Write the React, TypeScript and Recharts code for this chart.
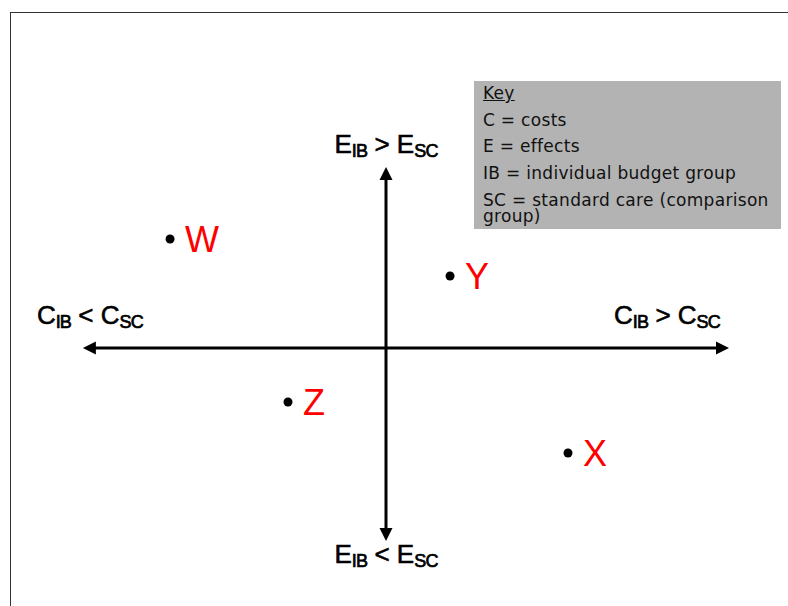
import { ScatterChart, Scatter, XAxis, YAxis, ReferenceLine, ReferenceDot } from "recharts";

// the four options on the cost-effectiveness plane
const names = ["W", "Y", "Z", "X"];
const costs = [-6.17, 1.83, -2.8, 5.2];
const effects = [5.45, 3.6, -2.7, -5.25];

// how far the arrows reach on each side
const costRange = [-8.66, 9.8];
const effectRange = [-9.65, 9.05];

const axisEnds = ["left", "right", "top", "bottom"];
const axisLetters = ["C", "C", "E", "E"];
const axisOps = ["<", ">", ">", "<"];

const keyLines = [
  "Key",
  "C = costs",
  "E = effects",
  "IB = individual budget group",
  "SC = standard care (comparison group)",
];

const points = names.map((n, i) => ({ name: n, cost: costs[i], effect: effects[i] }));

const FONT = "'Liberation Sans', Arial, sans-serif";

const Arrow = (p: any) => {
  const { x1, y1, x2, y2 } = p;
  const len = 13;
  const half = 6.5;
  const dx = x2 - x1;
  const dy = y2 - y1;
  const d = Math.sqrt(dx * dx + dy * dy) || 1;
  const ux = dx / d;
  const uy = dy / d;
  const head = (tx: number, ty: number, sx: number, sy: number) => {
    const bx = tx - sx * len;
    const by = ty - sy * len;
    return `${tx},${ty} ${bx - sy * half},${by + sx * half} ${bx + sy * half},${by - sx * half}`;
  };
  return (
    <g>
      <line x1={x1 + ux * 6} y1={y1 + uy * 6} x2={x2 - ux * 6} y2={y2 - uy * 6} stroke="#000" strokeWidth={3} />
      <polygon points={head(x2, y2, ux, uy)} fill="#000" />
      <polygon points={head(x1, y1, -ux, -uy)} fill="#000" />
    </g>
  );
};

const offsets: Record<string, [number, number]> = {
  left: [7, -24],
  right: [-62, -24],
  top: [0, -14],
  bottom: [0, 22],
};

const AxisLabel = (end: string, letter: string, op: string) => (p: any) => {
  const [ox, oy] = offsets[end];
  return (
    <text
      x={p.cx + ox}
      y={p.cy + oy}
      textAnchor="middle"
      fontFamily={FONT}
      fontSize={26}
      fill="#000"
      stroke="#000"
      strokeWidth={0.6}
    >
      {letter}
      <tspan fontSize={18} dy={4} letterSpacing={-0.8} strokeWidth={0.7}>IB</tspan>
      <tspan dy={-4}>{" " + op + " " + letter}</tspan>
      <tspan fontSize={18} dy={4} letterSpacing={-0.8} strokeWidth={0.7}>SC</tspan>
    </text>
  );
};

const PointShape = (p: any) => (
  <g>
    <circle cx={p.cx} cy={p.cy} r={4.5} fill="#000" />
    <text x={p.cx + 15} y={p.cy + 13} fontFamily={FONT} fontSize={36} fill="#ff0000">
      {p.payload.name}
    </text>
  </g>
);

const endPos = (end: string) => {
  if (end === "left") return { x: costRange[0], y: 0 };
  if (end === "right") return { x: costRange[1], y: 0 };
  if (end === "top") return { x: 0, y: effectRange[1] };
  return { x: 0, y: effectRange[0] };
};

export default function App() {
  return (
    <div style={{ position: "absolute", left: 0, top: 0, width: 788, height: 606, background: "#fff", overflow: "hidden" }}>
      <div
        style={{
          position: "absolute",
          left: 10,
          top: 12,
          width: 800,
          height: 620,
          borderTop: "1.5px solid #333",
          borderLeft: "1.5px solid #333",
        }}
      />
      <div style={{ position: "absolute", left: 0, top: 0 }}>
        <ScatterChart width={788} height={606} margin={{ top: 148, right: 52, bottom: 58, left: 36 }}>
          <XAxis type="number" dataKey="cost" domain={[-10, 10]} hide />
          <YAxis type="number" dataKey="effect" domain={[-10, 10]} hide />
          <ReferenceLine
            segment={[{ x: costRange[0], y: 0 }, { x: costRange[1], y: 0 }]}
            shape={Arrow}
          />
          <ReferenceLine
            segment={[{ x: 0, y: effectRange[0] }, { x: 0, y: effectRange[1] }]}
            shape={Arrow}
          />
          {axisEnds.map((end, i) => {
            const pos = endPos(end);
            return (
              <ReferenceDot
                key={end}
                x={pos.x}
                y={pos.y}
                r={0}
                ifOverflow="visible"
                shape={AxisLabel(end, axisLetters[i], axisOps[i])}
              />
            );
          })}
          <Scatter data={points} isAnimationActive={false} shape={PointShape} />
        </ScatterChart>
      </div>
      <div
        style={{
          position: "absolute",
          left: 474,
          top: 81,
          width: 307,
          height: 148,
          background: "#b3b3b3",
          fontFamily: "'DejaVu Sans', Verdana, sans-serif",
          fontSize: 17,
          letterSpacing: 0.3,
          color: "#111",
        }}
      >
        {keyLines.map((line, i) => {
          const last = i === keyLines.length - 1;
          return (
            <div
              key={i}
              style={{
                position: "absolute",
                left: 9,
                top: last ? 4 * 26.5 + 5 : i * 26.5 - 1,
                width: 294,
                lineHeight: last ? "16px" : "26.5px",
                textDecoration: i === 0 ? "underline" : "none",
                whiteSpace: last ? "normal" : "nowrap",
              }}
            >
              {line}
            </div>
          );
        })}
      </div>
    </div>
  );
}
